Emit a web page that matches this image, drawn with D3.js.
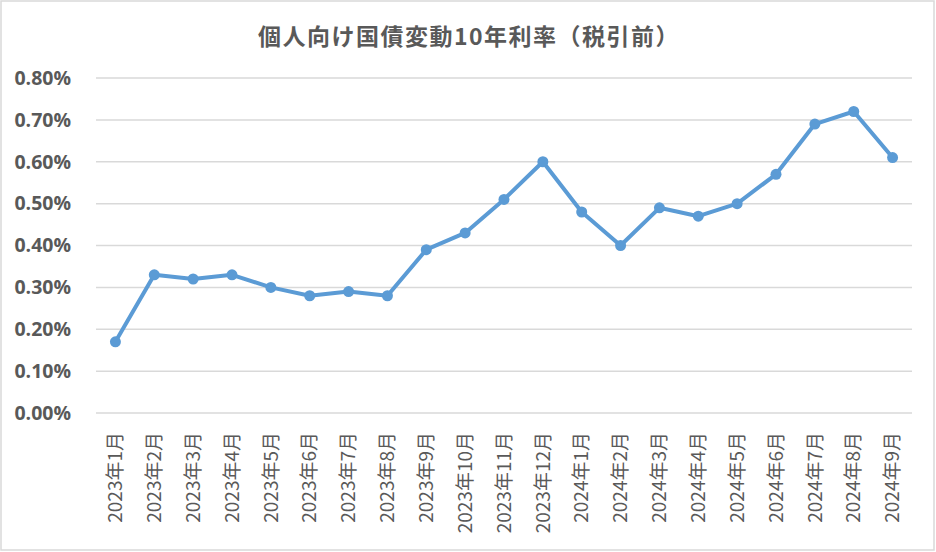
<!DOCTYPE html>
<html><head><meta charset="utf-8">
<script src="https://cdn.jsdelivr.net/npm/d3@7"></script>
<style>body{margin:0;background:#fff;}svg{display:block;}</style>
</head><body>
<svg id="c" width="936" height="552"></svg>
<script>
const categories = ["2023年1月","2023年2月","2023年3月","2023年4月","2023年5月","2023年6月","2023年7月","2023年8月","2023年9月","2023年10月","2023年11月","2023年12月","2024年1月","2024年2月","2024年3月","2024年4月","2024年5月","2024年6月","2024年7月","2024年8月","2024年9月"];
// rates in percent
const rates = [0.17,0.33,0.32,0.33,0.30,0.28,0.29,0.28,0.39,0.43,0.51,0.60,0.48,0.40,0.49,0.47,0.50,0.57,0.69,0.72,0.61];
const yTicks = [0,0.1,0.2,0.3,0.4,0.5,0.6,0.7,0.8];
const title = "個人向け国債変動10年利率（税引前）";

const svg = d3.select("#c");
const font = "'Noto Sans CJK JP','Noto Sans',sans-serif";
svg.append("rect").attr("x",1).attr("y",1).attr("width",933).attr("height",549)
  .attr("fill","#fff").attr("stroke","#d9d9d9").attr("stroke-width",1.5);

const x = d3.scaleBand().domain(categories).range([96,912]);
const y = d3.scaleLinear().domain([0,0.8]).range([413,78]);

svg.append("text").attr("x",469).attr("y",45).attr("text-anchor","middle")
  .attr("font-family",font).attr("font-weight","bold").attr("font-size",23)
  .attr("letter-spacing",1.5)
  .attr("fill","#595959").text(title);

// gridlines
svg.append("g").selectAll("line").data(yTicks).join("line")
  .attr("x1",96).attr("x2",912).attr("y1",d=>y(d)).attr("y2",d=>y(d))
  .attr("stroke","#d9d9d9").attr("stroke-width",1.5);

// y axis
const ya = svg.append("g").attr("transform","translate(96,0)")
  .call(d3.axisLeft(y).tickValues(yTicks).tickFormat(d=>d.toFixed(2)+"%").tickSize(0).tickPadding(25));
ya.select(".domain").remove();
ya.selectAll("text").attr("font-family","'Open Sans','Noto Sans',sans-serif").attr("font-weight","bold")
  .attr("font-size",19.5).attr("fill","#595959");

// x axis
const xa = svg.append("g").attr("transform","translate(0,413)")
  .call(d3.axisBottom(x).tickSize(0));
xa.select(".domain").remove();
xa.selectAll("text").attr("font-family",font).attr("font-size",19).attr("fill","#595959")
  .attr("text-anchor","end").attr("dy","0.35em")
  .attr("transform","translate(0,19) rotate(-90)").attr("x",0).attr("y",0);

const cx = d => x(d) + x.bandwidth()/2;
const line = d3.line().x((d,i)=>cx(categories[i])).y(d=>y(d));
svg.append("path").datum(rates).attr("d",line).attr("fill","none")
  .attr("stroke","#5b9bd5").attr("stroke-width",4).attr("stroke-linejoin","round");
svg.append("g").selectAll("circle").data(rates).join("circle")
  .attr("cx",(d,i)=>cx(categories[i])).attr("cy",d=>y(d)).attr("r",5.5).attr("fill","#5b9bd5");
</script>
</body></html>
